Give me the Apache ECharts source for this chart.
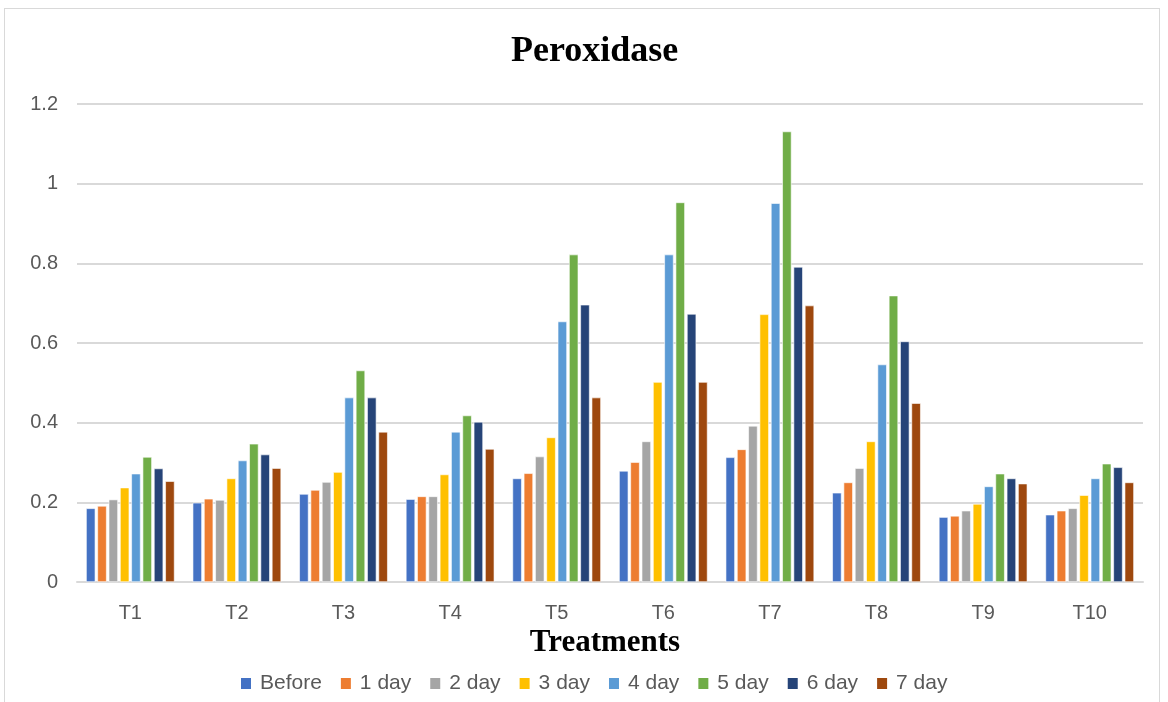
<!DOCTYPE html>
<html>
<head>
<meta charset="utf-8">
<script src="https://cdn.jsdelivr.net/npm/echarts@6/dist/echarts.min.js"></script>
<style>
html,body{margin:0;padding:0;background:#fff;}
#frame{position:absolute;left:4px;top:8px;width:1156px;height:700px;border:1.5px solid #d9d9d9;box-sizing:border-box;}
#chart{position:absolute;left:0;top:0;width:1168px;height:702px;}
</style>
</head>
<body>
<div id="frame"></div>
<div id="chart"></div>
<script>
const categories = ['T1','T2','T3','T4','T5','T6','T7','T8','T9','T10'];
const seriesNames = ['Before','1 day','2 day','3 day','4 day','5 day','6 day','7 day'];
const before = [0.185,0.199,0.221,0.208,0.260,0.279,0.313,0.224,0.163,0.169];
const day1   = [0.191,0.209,0.231,0.215,0.273,0.301,0.333,0.250,0.166,0.179];
const day2   = [0.207,0.206,0.251,0.215,0.315,0.353,0.392,0.286,0.179,0.185];
const day3   = [0.237,0.260,0.276,0.270,0.363,0.502,0.672,0.353,0.196,0.218];
const day4   = [0.272,0.305,0.463,0.377,0.654,0.822,0.951,0.546,0.240,0.260];
const day5   = [0.314,0.347,0.531,0.418,0.822,0.953,1.131,0.719,0.272,0.297];
const day6   = [0.285,0.320,0.463,0.402,0.696,0.673,0.791,0.604,0.260,0.288];
const day7   = [0.253,0.286,0.377,0.334,0.463,0.502,0.694,0.449,0.247,0.250];
const yTicks = { min: 0, max: 1.2, interval: 0.2 };
const colors = ['#4472C4','#ED7D31','#A5A5A5','#FFC000','#5B9BD5','#70AD47','#264478','#9E480E'];

const allData = [before, day1, day2, day3, day4, day5, day6, day7];
const chart = echarts.init(document.getElementById('chart'));
chart.setOption({
  animation: false,
  color: colors,
  title: {
    text: 'Peroxidase',
    left: 506,
    top: 29,
    textStyle: { fontFamily: 'Liberation Serif', fontWeight: 'bold', fontSize: 36, color: '#000' }
  },
  legend: {
    data: seriesNames,
    top: 668,
    left: 234,
    itemWidth: 12,
    itemHeight: 13,
    itemGap: 17,
    icon: 'rect',
    textStyle: { fontFamily: 'Liberation Sans', fontSize: 21, color: '#595959', padding: [0,0,0,3] }
  },
  grid: { left: 77, right: 25, top: 104, bottom: 120, containLabel: false },
  xAxis: {
    type: 'category',
    data: categories,
    name: 'Treatments',
    nameLocation: 'middle',
    nameGap: 37,
    nameTextStyle: { fontFamily: 'Liberation Serif', fontWeight: 'bold', fontSize: 31, color: '#000', padding: [0,10,0,0] },
    axisLine: { lineStyle: { color: '#d9d9d9', width: 2 } },
    axisTick: { show: false },
    axisLabel: { fontFamily: 'Liberation Sans', fontSize: 20, color: '#595959', margin: 21 }
  },
  yAxis: {
    type: 'value',
    min: yTicks.min, max: yTicks.max, interval: yTicks.interval,
    axisLine: { show: false },
    axisTick: { show: false },
    splitLine: { lineStyle: { color: '#d9d9d9', width: 2 } },
    axisLabel: { fontFamily: 'Liberation Sans', fontSize: 20, color: '#595959', margin: 19 }
  },
  series: seriesNames.map((n, i) => ({
    name: n,
    type: 'bar',
    data: allData[i],
    barGap: '22%',
    barCategoryGap: '17%',
    itemStyle: { borderColor: '#fff', borderWidth: 0.6 }
  }))
});
</script>
</body>
</html>
